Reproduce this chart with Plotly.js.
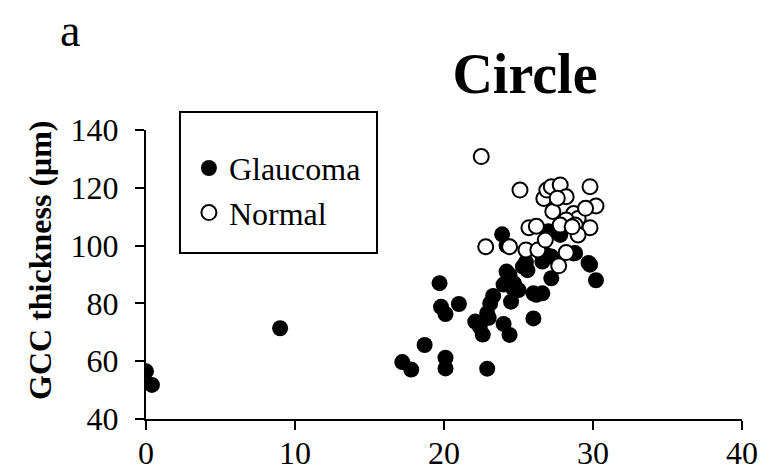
<!DOCTYPE html>
<html>
<head>
<meta charset="utf-8">
<script src="https://cdn.plot.ly/plotly-3.0.1.min.js"></script>
<style>html,body{margin:0;padding:0;background:#fff;}#chart{width:763px;height:472px;}</style>
</head>
<body>
<div id="chart"></div>
<script>
// Glaucoma group: x values and GCC thickness (µm)
var glaucomaX = [0, 0.4, 9.0, 17.2, 17.8, 18.7, 19.7, 19.8, 20.1, 20.1, 20.1, 21.0, 22.1, 22.6, 22.9, 22.9, 23.1, 23.3, 24.0, 24.4, 25.3, 25.5, 24.0, 24.4, 24.5, 25.0, 26.0, 26.0, 26.6, 27.2, 26.6, 29.8, 30.2, 23.9, 24.2, 27.8, 27.0, 27.2, 28.7, 24.7, 26.2, 24.2, 22.4, 23.0, 26.8, 25.6, 24.6, 28.8, 29.7];
var glaucomaY = [56.5, 51.8, 71.4, 59.7, 57.1, 65.6, 87.0, 78.8, 76.3, 61.2, 57.5, 79.8, 73.7, 69.2, 76.6, 57.4, 80.0, 82.6, 86.5, 89.8, 92.7, 94.3, 72.9, 69.1, 80.6, 84.6, 74.8, 83.5, 83.5, 88.7, 94.5, 93.4, 88.0, 103.9, 100.0, 103.7, 105.0, 96.2, 97.3, 86.9, 83.0, 91.0, 72.0, 75.0, 97.0, 91.5, 85.5, 97.4, 94.0];
// Normal group
var normalX = [22.5, 25.1, 26.7, 26.9, 27.2, 27.8, 28.2, 29.8, 30.2, 27.3, 28.7, 29.0, 29.5, 28.2, 27.8, 28.8, 29.8, 29.0, 25.7, 26.2, 22.8, 24.4, 25.5, 26.3, 26.8, 28.2, 27.7, 27.6, 28.6];
var normalY = [130.8, 119.2, 116.3, 119.2, 120.4, 121.0, 116.9, 120.4, 113.7, 111.8, 111.1, 109.4, 112.9, 108.9, 107.1, 107.1, 106.2, 103.7, 106.2, 106.7, 99.6, 99.6, 98.5, 98.5, 101.9, 97.6, 93.0, 116.4, 106.5];

var xTicks = [0, 10, 20, 30, 40];
var yTicks = [40, 60, 80, 100, 120, 140];

var serif = "Liberation Serif, Times New Roman, serif";

var traces = [
  {
    type: "scatter", mode: "markers", name: "Glaucoma",
    x: glaucomaX, y: glaucomaY, legendgroup: "g",
    marker: {size: 16, color: "#000000", line: {color: "#000000", width: 0}}
  },
  {
    type: "scatter", mode: "markers", name: "Normal",
    x: normalX, y: normalY, legendgroup: "n",
    marker: {size: 15, color: "#ffffff", line: {color: "#000000", width: 2}}
  }
];

var layout = {
  width: 763, height: 472,
  margin: {l: 146, r: 21, t: 130, b: 53},
  paper_bgcolor: "#ffffff", plot_bgcolor: "#ffffff",
  font: {family: serif, color: "#000000", size: 32},
  showlegend: true,
  title: {text: "<b>Circle</b>", font: {family: serif, size: 56, color: "#000"},
          x: 0.688, xanchor: "center", y: 0.845, yanchor: "middle"},
  xaxis: {
    range: [0, 40], tickvals: xTicks, ticktext: xTicks.map(String),
    showline: true, linecolor: "#000", linewidth: 2,
    ticks: "outside", ticklen: 9, tickwidth: 2, tickcolor: "#000",
    showgrid: false, zeroline: false, tickfont: {size: 32, family: serif},
    ticklabelstandoff: -4
  },
  yaxis: {
    range: [40, 140], tickvals: yTicks, ticktext: yTicks.map(String),
    showline: true, linecolor: "#000", linewidth: 2,
    ticks: "outside", ticklen: 9, tickwidth: 2, tickcolor: "#000",
    showgrid: false, zeroline: false, tickfont: {size: 32, family: serif},
    ticklabelstandoff: 10
  },
  legend: {
    x: 0.072, xanchor: "left", y: 0.963, yanchor: "top",
    bgcolor: "rgba(0,0,0,0)", borderwidth: 0,
    font: {size: 32, family: serif}, tracegroupgap: 0, traceorder: "normal"
  },
  shapes: [
    {type: "rect", xref: "paper", yref: "paper",
     x0: 0.057, x1: 0.3876, y0: 0.574, y1: 1.062,
     line: {color: "#000", width: 2}, fillcolor: "rgba(0,0,0,0)", layer: "above"}
  ],
  annotations: [
    {text: "a", xref: "paper", yref: "paper", x: -0.128, y: 1.346,
     xanchor: "center", yanchor: "middle", showarrow: false,
     font: {family: serif, size: 46, color: "#000"}},
    {text: "<b>GCC thickness (μm)</b>", xref: "paper", yref: "paper",
     x: -0.178, y: 0.55, xanchor: "center", yanchor: "middle", textangle: -90,
     showarrow: false, font: {family: serif, size: 32, color: "#000"}}
  ]
};

Plotly.newPlot("chart", traces, layout, {staticPlot: true, displayModeBar: false});
</script>
</body>
</html>
